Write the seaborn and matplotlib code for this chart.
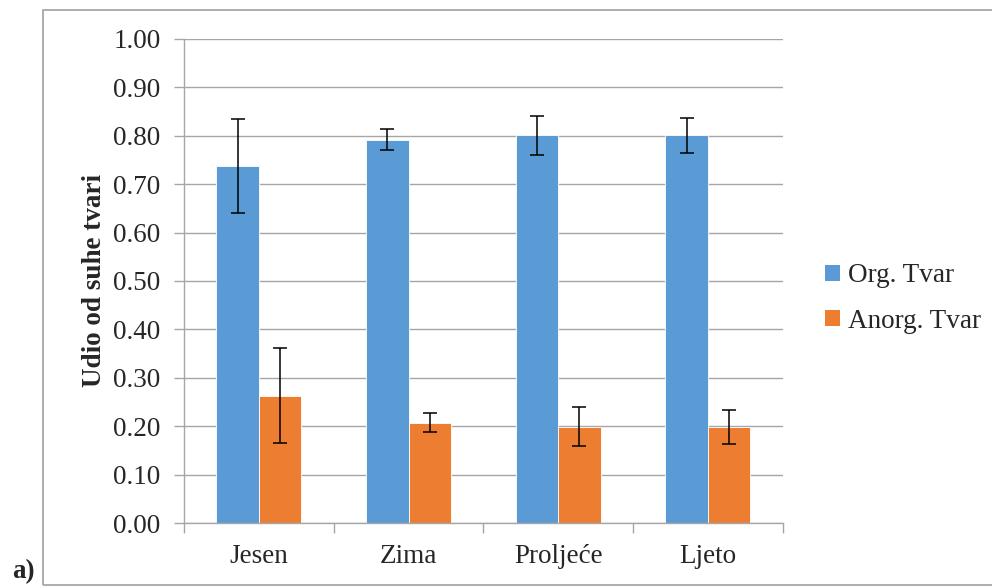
import pandas as pd
import numpy as np
import matplotlib
matplotlib.use("Agg")
import matplotlib.pyplot as plt
import seaborn as sns
from matplotlib.patches import Rectangle

# ---------------------------------------------------------------
# Data
# ---------------------------------------------------------------
seasons = ['Jesen', 'Zima', 'Proljeće', 'Ljeto']
org_vals = [0.738, 0.792, 0.801, 0.801]
org_err = [0.097, 0.021, 0.040, 0.036]
anorg_vals = [0.263, 0.207, 0.199, 0.199]
anorg_err = [0.098, 0.020, 0.040, 0.035]
series = ['Org. Tvar', 'Anorg. Tvar']
yticks = [0.0, 0.1, 0.2, 0.3, 0.4, 0.5, 0.6, 0.7, 0.8, 0.9, 1.0]

df = pd.DataFrame({
    'Sezona': seasons * 2,
    'Vrijednost': org_vals + anorg_vals,
    'Greska': org_err + anorg_err,
    'Tvar': [series[0]] * 4 + [series[1]] * 4,
})

# ---------------------------------------------------------------
# Style
# ---------------------------------------------------------------
sns.set_theme(style="white")
plt.rcParams['font.family'] = ['Liberation Serif', 'DejaVu Serif']
FS = 19.5

fig = plt.figure(figsize=(9.92, 5.86), dpi=100)
ax = fig.add_axes([0.1855, 0.1075, 0.6035, 0.826])

palette = {'Org. Tvar': '#5B9BD5', 'Anorg. Tvar': '#ED7D31'}
sns.barplot(data=df, x='Sezona', y='Vrijednost', hue='Tvar',
            order=seasons, hue_order=series, palette=palette,
            width=0.567, gap=0, errorbar=None, saturation=1,
            edgecolor='white', linewidth=0.6, ax=ax)

# Error bars at the centre of each drawn bar
for container, name in zip(ax.containers, series):
    sub = df[df['Tvar'] == name].set_index('Sezona').loc[seasons]
    xs = [p.get_x() + p.get_width() / 2 for p in container.patches]
    ax.errorbar(xs, sub['Vrijednost'], yerr=sub['Greska'], fmt='none',
                ecolor='black', elinewidth=1.1, capsize=5, capthick=1.1,
                zorder=5)

ax.set_ylim(0, 1.0)
ax.set_xlim(-0.5, 3.5)
ax.set_yticks(yticks)
ax.set_yticklabels([f"{t:.2f}" for t in yticks])
ax.yaxis.grid(True, color='#A6A6A6', linewidth=1.0)
ax.set_axisbelow(True)
ax.set_xlabel("")
ax.set_ylabel("Udio od suhe tvari", fontsize=FS, fontweight='bold')
ax.yaxis.set_label_coords(-0.128, 0.5)

# category separators as ticks
ax.set_xticks(np.arange(-0.5, 4, 1.0), minor=True)
ax.tick_params(axis='x', which='minor', length=7, width=1, color='#A6A6A6',
               bottom=True)
ax.tick_params(axis='x', which='major', length=0, pad=15, labelsize=FS)
ax.tick_params(axis='y', length=7, width=1, color='#A6A6A6', pad=10,
               labelsize=FS, left=True)

for s in ['top', 'right']:
    ax.spines[s].set_visible(False)
for s in ['left', 'bottom']:
    ax.spines[s].set_color('#A6A6A6')
    ax.spines[s].set_linewidth(1.0)

leg = ax.legend(loc='center left', bbox_to_anchor=(0.8185, 0.4906),
                bbox_transform=fig.transFigure, frameon=False,
                fontsize=FS, handlelength=0.52, handleheight=0.52,
                handletextpad=0.3, labelspacing=0.75, borderpad=0)
for h in leg.legend_handles:
    h.set_edgecolor('none')

# outer chart frame
fig.patches.append(Rectangle((0.0433, 0.0017), 1.0, 0.9813,
                             transform=fig.transFigure, fill=False,
                             edgecolor='#A0A0A0', linewidth=1.2))

fig.text(0.012, 0.004, "a)", fontsize=FS, fontweight='bold',
         ha='left', va='bottom')

fig.savefig("out.png", dpi=100)
